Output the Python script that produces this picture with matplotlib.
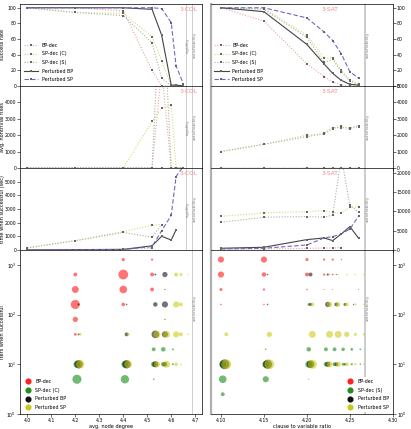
import numpy as np
import matplotlib.pyplot as plt
from matplotlib.lines import Line2D
from matplotlib.ticker import FixedLocator, NullLocator

# ---------------- 3-COL (left column) ----------------
col_x = [4.0, 4.2, 4.4, 4.52, 4.56, 4.6, 4.62, 4.65]

col_succ_bp = [100, 100, 96, 20, 0, 0, 0, 0]
col_succ_spc = [100, 94, 93, 63, 32, 0, 0, 0]
col_succ_sps = [100, 94, 90, 55, 10, 0, 0, 0]
col_succ_pbp = [100, 100, 100, 98, 65, 1, 1, 0]
col_succ_psp = [100, 100, 100, 100, 99, 81, 26, 3]

col_fix_bp = [0, 0, 0, 0, 6000, 0, 0, 0]
col_fix_spc = [0, 0, 0, 2830, 3640, 3840, 0, 0]
col_fix_sps = [0, 0, 0, 0, 12000, 0, 0, 0]
col_fix_pbp = [0, 0, 0, 0, 0, 0, 0, 0]
col_fix_psp = [0, 0, 0, 0, 0, 0, 0, 0]

col_time_bp = [10, 30, 60, 120, np.nan, np.nan, np.nan, np.nan]
col_time_spc = [150, 675, 1340, 1800, 1860, np.nan, np.nan, np.nan]
col_time_sps = [150, 680, 1280, 940, 1850, np.nan, np.nan, np.nan]
col_time_pbp = [0, 20, 40, 300, 1000, 725, 1470, np.nan]
col_time_psp = [0, 20, 30, 250, 1410, 2530, 5370, 6100]

# bubbles: (x, iterations, count)
col_bub_bp_x = [4.2, 4.2, 4.2, 4.2, 4.2, 4.4, 4.4, 4.4, 4.4, 4.52, 4.52, 4.52]
col_bub_bp_it = [640, 320, 160, 80, 40, 1280, 640, 320, 160, 1280, 640, 320]
col_bub_bp_n = [6, 19, 33, 11, 3, 4, 38, 23, 5, 2, 6, 6]

col_bub_sp_x = [4.2, 4.2, 4.4, 4.4, 4.52, 4.52, 4.52, 4.56, 4.56, 4.6, 4.6]
col_bub_sp_it = [5, 10, 5, 10, 20, 10, 5, 20, 10, 20, 10]
col_bub_sp_n = [33, 19, 28, 19, 6, 11, 1, 8, 8, 1.5, 1.5]

col_bub_pbp_x = [4.2, 4.2, 4.2, 4.4, 4.4, 4.4, 4.52, 4.52, 4.52, 4.52,
                 4.56, 4.56, 4.56, 4.56, 4.56, 4.56]
col_bub_pbp_it = [10, 40, 160, 10, 40, 160, 10, 40, 160, 640,
                  10, 40, 80, 160, 320, 640]
col_bub_pbp_n = [28, 1.5, 1.5, 28, 6, 1, 15, 23, 8, 1.5,
                 8, 15, 0.6, 15, 0.6, 11]

col_bub_psp_x = [4.2, 4.2, 4.4, 4.4, 4.52, 4.52, 4.56, 4.56, 4.6, 4.6, 4.6, 4.6,
                 4.62, 4.62, 4.62, 4.62, 4.65, 4.65]
col_bub_psp_it = [10, 40, 10, 40, 10, 40, 10, 40, 10, 40, 160, 640,
                  10, 40, 160, 640, 40, 640]
col_bub_psp_n = [28, 3, 23, 3, 15, 19, 19, 19, 5, 15, 15, 6,
                 1, 6, 6, 3.5, 1, 0.6]

# ---------------- 3-SAT (right column) ----------------
sat_x = [4.10, 4.15, 4.20, 4.22, 4.23, 4.24, 4.25, 4.26]

sat_succ_bp = [100, 83, 28, 12, 5, 1, 0, 0]
sat_succ_spc = [100, 99, 65, 36, 36, 20, 8, 3]
sat_succ_sps = [100, 98, 62, 30, 34, 18, 6, 2]
sat_succ_pbp = [100, 95, 53, 28, 16, 7, 2, 1]
sat_succ_psp = [100, 100, 87, 69, 58, 41, 18, 10]

sat_fix_bp = [0, 0, 0, 0, 0, 0, 0, 0]
sat_fix_spc = [1000, 1440, 2000, 2060, 2400, 2540, 2400, 2500]
sat_fix_sps = [1000, 1440, 1900, 2100, 2450, 2460, 2420, 2560]
sat_fix_pbp = [0, 0, 0, 0, 0, 0, 0, 0]
sat_fix_psp = [0, 0, 0, 0, 0, 0, 0, 0]

sat_time_bp = [150, 250, 400, 500, 500, 600, np.nan, np.nan]
sat_time_spc = [8700, 9570, 9900, 10170, 9740, 9480, 11030, 11030]
sat_time_sps = [7150, 8450, 8620, 8450, 9000, 24000, 11500, 9740]
sat_time_pbp = [430, 690, 2670, 3100, 2410, 4140, 6030, 3020]
sat_time_psp = [260, 430, 1290, 3100, 3450, 4140, 5430, 8700]

sat_bub_bp_x = [4.10, 4.10, 4.10, 4.10, 4.15, 4.15, 4.15, 4.15, 4.20, 4.20, 4.20,
                4.22, 4.22, 4.22, 4.23, 4.23, 4.23, 4.24, 4.26]
sat_bub_bp_it = [1280, 640, 320, 160, 1280, 640, 320, 160, 1280, 640, 320,
                 1280, 640, 320, 1280, 640, 320, 1280, 320]
sat_bub_bp_n = [15, 15, 3.5, 1, 15, 8, 2, 1, 4, 6, 1,
                2, 2, 0.5, 2, 1.3, 0.5, 0.8, 0.5]

sat_bub_sp_x = [4.10, 4.10, 4.10, 4.15, 4.15, 4.15, 4.20, 4.20, 4.20, 4.20,
                4.22, 4.22, 4.23, 4.23, 4.24, 4.24, 4.25, 4.25, 4.26, 4.26]
sat_bub_sp_it = [10, 5, 2.5, 20, 10, 5, 160, 20, 10, 5,
                 20, 10, 20, 10, 20, 10, 20, 10, 20, 10]
sat_bub_sp_n = [19, 23, 6, 1, 19, 15, 3, 8, 19, 0.5,
                6, 8, 6, 6, 5, 3.5, 3, 2, 1.3, 1]

sat_bub_pbp_x = [4.10, 4.15, 4.15, 4.15, 4.20, 4.20, 4.20, 4.22, 4.22, 4.22,
                 4.23, 4.23, 4.23, 4.24, 4.24, 4.25]
sat_bub_pbp_it = [10, 10, 160, 640, 10, 640, 160, 10, 160, 640,
                  10, 160, 640, 10, 160, 160]
sat_bub_pbp_n = [38, 33, 1, 1, 23, 6, 4, 11, 11, 2,
                 6, 6, 0.6, 2, 3.5, 0.6]

sat_bub_psp_x = [4.10, 4.10, 4.15, 4.15, 4.20, 4.20, 4.20, 4.22, 4.22, 4.22, 4.22,
                 4.23, 4.23, 4.23, 4.23, 4.24, 4.24, 4.24, 4.24,
                 4.25, 4.25, 4.25, 4.25, 4.26, 4.26, 4.26, 4.26]
sat_bub_psp_it = [10, 40, 10, 40, 10, 40, 160, 10, 40, 160, 640,
                  10, 40, 160, 640, 10, 40, 160, 640,
                  10, 40, 160, 640, 10, 40, 160, 640]
sat_bub_psp_n = [38, 6, 38, 11, 33, 19, 6, 15, 19, 11, 1.3,
                 11, 19, 8, 1, 6, 11, 6, 1,
                 2, 3.5, 2, 1, 1, 2, 1, 0.8]

# ---------------- styling ----------------
plt.rcParams['font.family'] = ['DejaVu Sans']
plt.rcParams['axes.linewidth'] = 0.5
plt.rcParams['mathtext.fontset'] = 'dejavusans'

FS_TICK = 3.3
FS_LAB = 3.6
FS_LEG = 3.4

line_names = ['BP-dec', 'SP-dec (C)', 'SP-dec (S)', 'Perturbed BP', 'Perturbed SP']
line_cols = ['#f3a0a0', '#d8d878', '#a3b5a3', '#444444', '#6a6ac6']
line_styles = [(0, (1, 1.5)), (0, (1, 1.5)), (0, (1, 1.5)), '-', (0, (4, 2))]
bub_cols = ['#ff0000', '#008000', '#000000', '#c8c800']
bub_leg_cols = ['#ff2020', '#1f8f1f', '#111111', '#c8c820']
title_col = '#f08888'
vline_col = '#bbbbbb'

fig = plt.figure(figsize=(4.11, 4.29), dpi=100)
gs = fig.add_gridspec(4, 2, height_ratios=[1, 1, 1, 2], left=0.049, right=0.956,
                      top=0.991, bottom=0.035, hspace=0, wspace=0.045)

col_series = [
    [col_succ_bp, col_succ_spc, col_succ_sps, col_succ_pbp, col_succ_psp],
    [col_fix_bp, col_fix_spc, col_fix_sps, col_fix_pbp, col_fix_psp],
    [col_time_bp, col_time_spc, col_time_sps, col_time_pbp, col_time_psp],
]
sat_series = [
    [sat_succ_bp, sat_succ_spc, sat_succ_sps, sat_succ_pbp, sat_succ_psp],
    [sat_fix_bp, sat_fix_spc, sat_fix_sps, sat_fix_pbp, sat_fix_psp],
    [sat_time_bp, sat_time_spc, sat_time_sps, sat_time_pbp, sat_time_psp],
]
col_ylims = [(0, 105), (0, 5000), (0, 6000)]
col_yticks = [[0, 20, 40, 60, 80, 100], [0, 1000, 2000, 3000, 4000],
              [0, 1000, 2000, 3000, 4000, 5000]]
sat_ylims = [(0, 105), (0, 5000), (0, 21200)]
sat_yticks = [[0, 20, 40, 60, 80, 100], [0, 1000, 2000, 3000, 4000, 5000],
              [0, 5000, 10000, 15000, 20000]]
ylabels = ['success rate', 'avg. nontrivial fixes', 'time when successful (sec)',
           'iters when successful']

col_xlim = (3.97, 4.73)
sat_xlim = (4.088, 4.30)
col_rigid, col_satis = 4.66, 4.687
sat_satis = 4.267


def style_axis(ax, right_side):
    ax.tick_params(length=2, width=0.4, pad=0.8, labelsize=FS_TICK)
    if right_side:
        ax.yaxis.tick_right()
        ax.spines['left'].set_color('#b0b0b0')
        ax.spines['left'].set_linewidth(1.6)


def draw_lines(ax, xs, series):
    for vals, name, c, ls in zip(series, line_names, line_cols, line_styles):
        ax.plot(xs, vals, color=c, ls=ls, lw=0.8, label=name, zorder=2,
                marker='s', ms=1.8, mfc='#666666', mec='#666666', mew=0)


def draw_bubbles(ax, groups, step):
    for k, (xs, its, ns) in enumerate(groups):
        ax.scatter(np.array(xs) + k * step, its, s=np.array(ns) * 1.3,
                   color=bub_cols[k], alpha=0.55, linewidths=0, zorder=3)


def vtext(ax, x, label, yfrac):
    ax.text(x + 0.002, yfrac, label, rotation=90, ha='left', va='center',
            fontsize=3.2, color='#888888', transform=ax.get_xaxis_transform())


def place_ylabel(ax, text):
    ax.set_ylabel(text, fontsize=FS_LAB)
    ax.yaxis.set_label_coords(-0.085, 0.5)


for r in range(3):
    axl = fig.add_subplot(gs[r, 0])
    axr = fig.add_subplot(gs[r, 1])
    draw_lines(axl, col_x, col_series[r])
    draw_lines(axr, sat_x, sat_series[r])
    for ax, xl in ((axl, col_xlim), (axr, sat_xlim)):
        ax.set_xlim(*xl)
        ax.tick_params(labelbottom=False)
    axl.set_ylim(*col_ylims[r])
    axl.set_yticks(col_yticks[r])
    axr.set_ylim(*sat_ylims[r])
    axr.set_yticks(sat_yticks[r])
    axl.set_xticks([4.0, 4.1, 4.2, 4.3, 4.4, 4.5, 4.6, 4.7])
    axr.set_xticks([4.10, 4.15, 4.20, 4.25, 4.30])
    style_axis(axl, False)
    style_axis(axr, True)
    place_ylabel(axl, ylabels[r])

    axl.axvline(col_rigid, color=vline_col, lw=0.5, zorder=1)
    axl.axvline(col_satis, color=vline_col, lw=0.5, zorder=1)
    axr.axvline(sat_satis, color='#cccccc', lw=1.4, zorder=1)
    vtext(axl, col_rigid, 'rigidity', 0.5)
    vtext(axl, col_satis, 'satisfiability', 0.5)
    vtext(axr, sat_satis, 'satisfiability', 0.5)

    axl.text(4.67, 0.93, '3-COL', color=title_col, fontsize=4.2, ha='center',
             va='center', transform=axl.get_xaxis_transform())
    axr.text(4.227, 0.93, '3-SAT', color=title_col, fontsize=4.2, ha='center',
             va='center', transform=axr.get_xaxis_transform())

    if r == 0:
        for ax in (axl, axr):
            ax.legend(loc='lower left', frameon=False, fontsize=FS_LEG,
                      handlelength=3.0, labelspacing=0.75, handletextpad=0.8,
                      borderaxespad=0.4, bbox_to_anchor=(0.0, 0.0))

# ---------------- bottom row: iteration bubbles ----------------
axl = fig.add_subplot(gs[3, 0])
axr = fig.add_subplot(gs[3, 1])
draw_bubbles(axl, [(col_bub_bp_x, col_bub_bp_it, col_bub_bp_n),
                   (col_bub_sp_x, col_bub_sp_it, col_bub_sp_n),
                   (col_bub_pbp_x, col_bub_pbp_it, col_bub_pbp_n),
                   (col_bub_psp_x, col_bub_psp_it, col_bub_psp_n)], 0.0068)
draw_bubbles(axr, [(sat_bub_bp_x, sat_bub_bp_it, sat_bub_bp_n),
                   (sat_bub_sp_x, sat_bub_sp_it, sat_bub_sp_n),
                   (sat_bub_pbp_x, sat_bub_pbp_it, sat_bub_pbp_n),
                   (sat_bub_psp_x, sat_bub_psp_it, sat_bub_psp_n)], 0.0021)

for ax, xl in ((axl, col_xlim), (axr, sat_xlim)):
    ax.set_yscale('log')
    ax.set_ylim(1, 2000)
    ax.set_xlim(*xl)
    ax.yaxis.set_major_locator(FixedLocator([1, 10, 100, 1000]))
    ax.yaxis.set_minor_locator(NullLocator())
axl.set_xticks([4.0, 4.1, 4.2, 4.3, 4.4, 4.5, 4.6, 4.7])
axr.set_xticks([4.10, 4.15, 4.20, 4.25, 4.30])
style_axis(axl, False)
style_axis(axr, True)
place_ylabel(axl, ylabels[3])
axl.set_xlabel('avg. node degree', fontsize=FS_LAB, labelpad=0.6)
axr.set_xlabel('clause to variable ratio', fontsize=FS_LAB, labelpad=0.6)

axl.axvline(col_satis, color=vline_col, lw=0.5, zorder=1)
axr.axvline(sat_satis, color='#cccccc', lw=1.4, zorder=1)
vtext(axl, col_satis, 'satisfiability', 0.65)
vtext(axr, sat_satis, 'satisfiability', 0.65)

names_l = ['BP-dec', 'SP-dec (C)', 'Perturbed BP', 'Perturbed SP']
names_r = ['BP-dec', 'SP-dec (S)', 'Perturbed BP', 'Perturbed SP']
h_l = [Line2D([], [], ls='', marker='o', ms=3.4, mfc=c, mec=c) for c in bub_leg_cols]
axl.legend(h_l, names_l, loc='lower left', frameon=False, fontsize=FS_LEG,
           handlelength=1.5, labelspacing=0.75, handletextpad=0.8, borderaxespad=0.5)
axr.legend(h_l, names_r, loc='lower right', fontsize=FS_LEG, frameon=True,
           edgecolor='none', facecolor='white', framealpha=1.0,
           handlelength=1.5, labelspacing=0.75, handletextpad=0.8, borderaxespad=0.5)

fig.savefig('out.png', dpi=100)
